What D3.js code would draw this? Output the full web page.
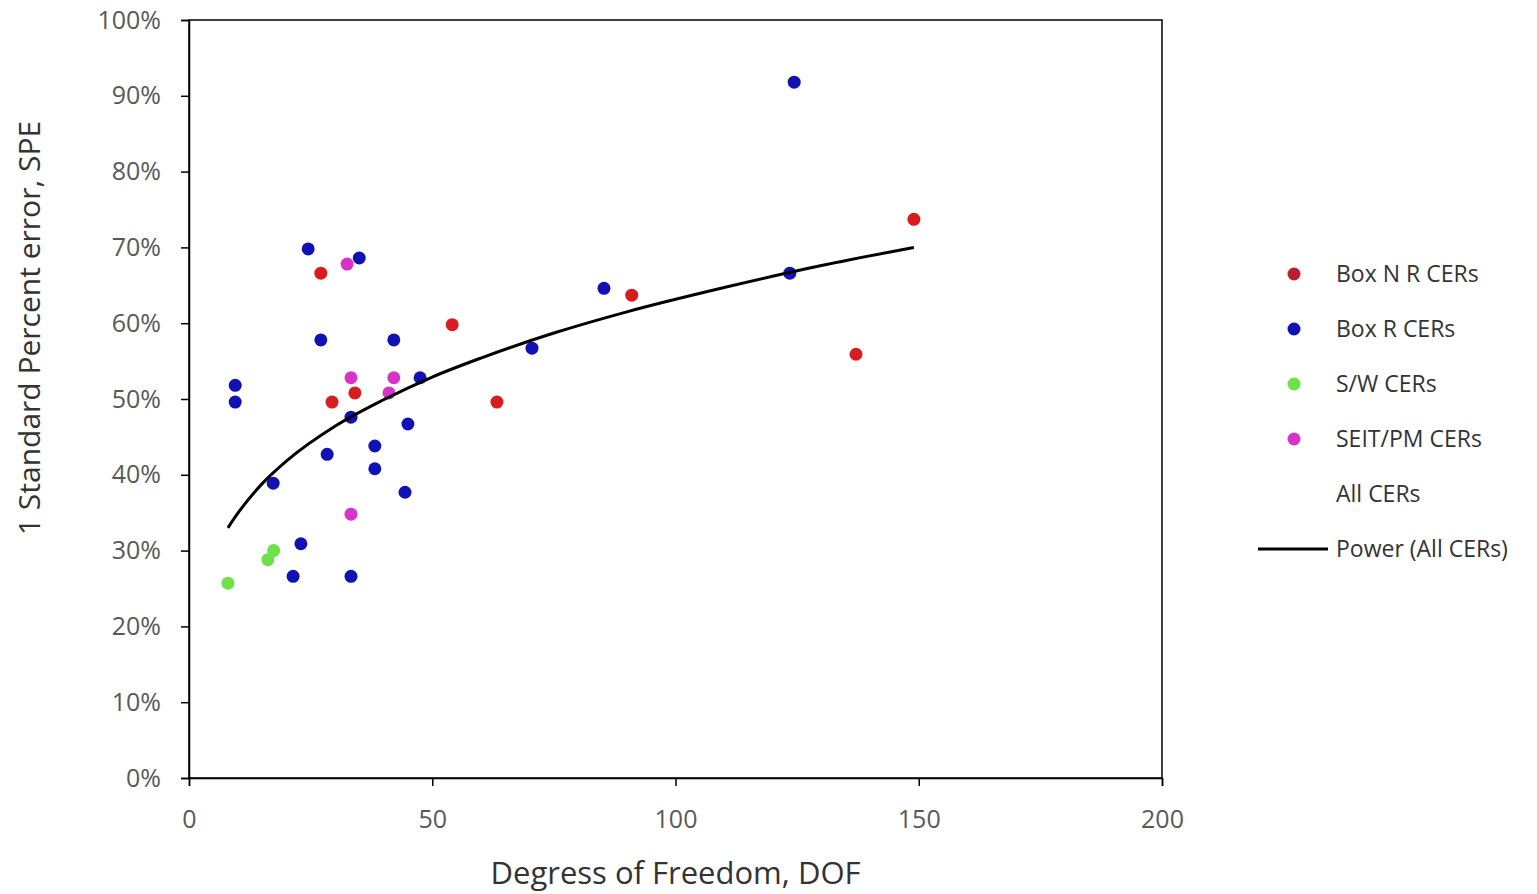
<!DOCTYPE html>
<html>
<head>
<meta charset="utf-8">
<script src="https://cdn.jsdelivr.net/npm/d3@7"></script>
<style>
  body { margin: 0; background: #fff; }
  svg { display: block; }
  .tick text { font-family: "Open Sans", "Noto Sans", sans-serif; fill: #595959; }
</style>
</head>
<body>
<svg id="chart" width="1537" height="894"></svg>
<script>
// values: [DOF, SPE %]
const boxNR = [[27.1, 66.6], [54.1, 59.8], [29.4, 49.6], [34.1, 50.8], [63.3, 49.6], [91, 63.7], [137.1, 55.9], [149, 73.7]];
const boxR = [
  [124.4, 91.8], [24.5, 69.8], [35, 68.6], [27.1, 57.8], [42.1, 57.8], [9.5, 51.8], [9.5, 49.6],
  [47.5, 52.8], [33.3, 47.6], [45, 46.7], [28.4, 42.7], [38.2, 43.8], [38.2, 40.8], [17.3, 38.9],
  [44.4, 37.7], [23, 30.9], [21.4, 26.6], [33.3, 26.6], [85.3, 64.6], [70.5, 56.7], [123.5, 66.6]
];
const swCERs = [[8, 25.7], [16.2, 28.8], [17.4, 30]];
const seitPM = [[32.5, 67.8], [33.3, 52.8], [42.1, 52.8], [41.1, 50.8], [33.3, 34.8]];
// power trend line
const trendPts = [[8, 33], [10, 34.9], [15, 38.8], [20, 41.8], [30, 46.4], [40, 49.9], [50, 52.9],
  [60, 55.4], [75, 58.7], [90, 61.5], [110, 64.7], [130, 67.6], [149, 70]];

const xTicks = [0, 50, 100, 150, 200];
const yTicks = [0, 10, 20, 30, 40, 50, 60, 70, 80, 90, 100];

const series = [
  { name: "Box N R CERs", data: boxNR, color: "#d81c1f" },
  { name: "Box R CERs", data: boxR, color: "#1212b4" },
  { name: "S/W CERs", data: swCERs, color: "#6ee04a" },
  { name: "SEIT/PM CERs", data: seitPM, color: "#d833c8" }
];

const svg = d3.select("#chart");
const plotLeft = 189, plotRight = 1162, plotTop = 20, plotBottom = 778;

const x = d3.scaleLinear().domain([0, 200]).range([plotLeft, plotRight]);
const y = d3.scaleLinear().domain([0, 100]).range([plotBottom, plotTop]);

// frame
svg.append("rect")
  .attr("x", plotLeft).attr("y", plotTop)
  .attr("width", plotRight - plotLeft).attr("height", plotBottom - plotTop)
  .attr("fill", "none").attr("stroke", "#000").attr("stroke-width", 1.5);

const xAxis = svg.append("g")
  .attr("transform", `translate(0,${plotBottom})`)
  .call(d3.axisBottom(x).tickValues(xTicks).tickSize(8).tickPadding(24));
xAxis.selectAll("text").attr("font-size", 25);

const yAxis = svg.append("g")
  .attr("transform", `translate(${plotLeft},0)`)
  .call(d3.axisLeft(y).tickValues(yTicks).tickSize(8).tickPadding(20).tickFormat(d => d + "%"));
yAxis.selectAll("text").attr("font-size", 25);

svg.selectAll(".domain").attr("stroke", "#000").attr("stroke-width", 1.5);
svg.selectAll(".tick line").attr("stroke", "#000").attr("stroke-width", 1.5);

// points
series.forEach(s => {
  svg.append("g")
    .selectAll("circle")
    .data(s.data)
    .join("circle")
    .attr("cx", d => x(d[0]))
    .attr("cy", d => y(d[1]))
    .attr("r", 6.5)
    .attr("fill", s.color);
});

// trend line
const line = d3.line()
  .x(d => x(d[0]))
  .y(d => y(d[1]))
  .curve(d3.curveMonotoneX);

svg.append("path")
  .datum(trendPts)
  .attr("d", line)
  .attr("fill", "none")
  .attr("stroke", "#000")
  .attr("stroke-width", 3);

// axis titles
svg.append("text")
  .attr("x", x(100))
  .attr("y", 884)
  .attr("text-anchor", "middle")
  .attr("font-family", "'Open Sans', 'Noto Sans', sans-serif")
  .attr("font-size", 31)
  .attr("fill", "#333")
  .text("Degress of Freedom, DOF");

svg.append("text")
  .attr("transform", "translate(40,328) rotate(-90)")
  .attr("text-anchor", "middle")
  .attr("font-family", "'Open Sans', 'Noto Sans', sans-serif")
  .attr("font-size", 30)
  .attr("fill", "#333")
  .text("1 Standard Percent error, SPE");

// legend
const legendRows = [
  { label: "Box N R CERs", color: "#b8202c", type: "dot" },
  { label: "Box R CERs", color: "#1212b4", type: "dot" },
  { label: "S/W CERs", color: "#6ee04a", type: "dot" },
  { label: "SEIT/PM CERs", color: "#d833c8", type: "dot" },
  { label: "All CERs", type: "none" },
  { label: "Power (All CERs)", type: "line" }
];
const legendY = d3.scalePoint().domain(d3.range(legendRows.length)).range([274, 549]);

const legend = svg.append("g")
  .selectAll("g")
  .data(legendRows)
  .join("g")
  .attr("transform", (d, i) => `translate(0,${legendY(i)})`);

legend.filter(d => d.type === "dot")
  .append("circle")
  .attr("cx", 1294).attr("r", 6.5)
  .attr("fill", d => d.color);

legend.filter(d => d.type === "line")
  .append("line")
  .attr("x1", 1258).attr("x2", 1328)
  .attr("stroke", "#000").attr("stroke-width", 3);

legend.append("text")
  .attr("x", 1336)
  .attr("dy", "0.35em")
  .attr("font-family", "'Open Sans', 'Noto Sans', sans-serif")
  .attr("font-size", 23)
  .attr("fill", "#333")
  .text(d => d.label);
</script>
</body>
</html>
